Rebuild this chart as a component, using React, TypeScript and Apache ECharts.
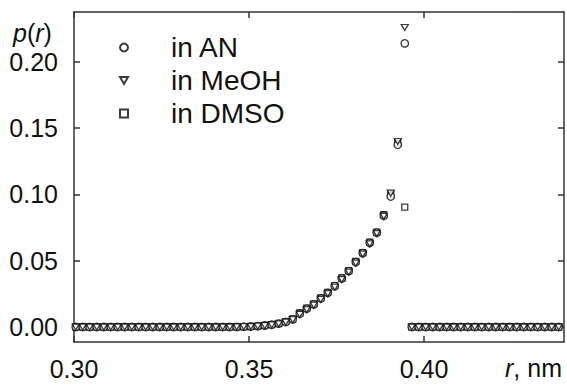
import React, { useEffect, useRef } from "react";
import * as echarts from "echarts";

// r grid (nm): 70 sampling points
const rStart = 0.3005;
const rStep = 0.002;
const rCount = 70;

// p(r) values per series, index k -> r = rStart + k*rStep
const zeros23 = [0, 0, 0, 0, 0, 0, 0, 0, 0, 0, 0, 0, 0, 0, 0, 0, 0, 0, 0, 0, 0, 0, 0];
const zeros22 = [0, 0, 0, 0, 0, 0, 0, 0, 0, 0, 0, 0, 0, 0, 0, 0, 0, 0, 0, 0, 0, 0];
const riseAN = [0.0001, 0.0002, 0.0004, 0.0007, 0.0011, 0.0017, 0.0026, 0.0038, 0.0058, 0.0100, 0.0138, 0.0170, 0.0215, 0.0258, 0.0308, 0.0366, 0.0422, 0.0490, 0.0558, 0.0635, 0.0712, 0.0840, 0.0985, 0.1375, 0.2140];
const riseMeOH = [0.0001, 0.0002, 0.0003, 0.0006, 0.0010, 0.0016, 0.0024, 0.0036, 0.0055, 0.0095, 0.0132, 0.0165, 0.0208, 0.0252, 0.0300, 0.0358, 0.0415, 0.0482, 0.0550, 0.0628, 0.0705, 0.0835, 0.1010, 0.1400, 0.2260];
const riseDMSO = [0.0001, 0.0002, 0.0004, 0.0007, 0.0012, 0.0018, 0.0027, 0.0040, 0.0062, 0.0106, 0.0142, 0.0174, 0.0220, 0.0262, 0.0312, 0.0370, 0.0426, 0.0495, 0.0562, 0.0640, 0.0716, 0.0848, 0.1000, 0.1390, 0.0905];

const pAN = [...zeros23, ...riseAN, ...zeros22];
const pMeOH = [...zeros23, ...riseMeOH, ...zeros22];
const pDMSO = [...zeros23, ...riseDMSO, ...zeros22];

const xTicks = [0.3, 0.35, 0.4];
const yTicks = [0, 0.05, 0.1, 0.15, 0.2];
const seriesNames = ["in AN", "in MeOH", "in DMSO"];

const FONT = "'Liberation Sans', Arial, sans-serif";
const INK = "#111111";
const MARK = "#0a0a0a";
const TRI_DOWN = "path://M0 0L10 0L5 8.66Z";

export default function App() {
  const ref = useRef<HTMLDivElement>(null);
  useEffect(() => {
    document.body.style.margin = "0";
    if (!ref.current) return;
    const chart = echarts.init(ref.current, undefined, { renderer: "svg" });
    const rVals = Array.from({ length: rCount }, (_, k) => +(rStart + k * rStep).toFixed(4));
    const mk = (arr: number[]) => arr.map((v, k) => [rVals[k], v]);
    const axisLine = { show: true, onZero: false, lineStyle: { color: "#333", width: 1.5 } };
    const tickStyle = { color: "#333", width: 1.5 };
    const markStyle = { color: "#ffffff", borderColor: MARK, borderWidth: 1.3 };
    const xCommon = {
      type: "value" as const,
      min: 0.3,
      max: 0.44,
      splitLine: { show: false },
      axisLine,
    };
    const yCommon = {
      type: "value" as const,
      min: -0.0113,
      max: 0.2377,
      splitLine: { show: false },
      axisLine,
    };
    chart.setOption({
      animation: false,
      backgroundColor: "#ffffff",
      grid: { left: 74, right: 3, top: 12, bottom: 43, containLabel: false },
      xAxis: [
        {
          ...xCommon,
          position: "bottom",
          axisTick: { show: true, inside: true, length: 6, customValues: xTicks, lineStyle: tickStyle },
          axisLabel: {
            show: true,
            customValues: xTicks,
            formatter: (v: number) => v.toFixed(2),
            fontSize: 25,
            fontFamily: FONT,
            color: INK,
            margin: 14,
          },
        },
        {
          ...xCommon,
          position: "top",
          axisTick: { show: true, inside: true, length: 6, customValues: xTicks, lineStyle: tickStyle },
          axisLabel: { show: false },
        },
      ],
      yAxis: [
        {
          ...yCommon,
          position: "left",
          axisTick: { show: true, inside: true, length: 6, customValues: yTicks, lineStyle: tickStyle },
          axisLabel: {
            show: true,
            customValues: yTicks,
            formatter: (v: number) => v.toFixed(2),
            fontSize: 25,
            fontFamily: FONT,
            color: INK,
            margin: 16,
          },
        },
        {
          ...yCommon,
          position: "right",
          axisTick: { show: true, inside: true, length: 6, customValues: yTicks, lineStyle: tickStyle },
          axisLabel: { show: false },
        },
      ],
      legend: {
        orient: "vertical",
        left: 114,
        top: 26,
        padding: 5,
        itemWidth: 8,
        itemHeight: 8,
        itemGap: 0,
        data: seriesNames,
        textStyle: { fontSize: 28, fontFamily: FONT, color: INK, lineHeight: 33, padding: [0, 0, 0, 38] },
      },
      series: [
        {
          name: seriesNames[0],
          type: "scatter",
          symbol: "circle",
          symbolSize: 7.5,
          itemStyle: markStyle,
          data: mk(pAN),
          clip: false,
          z: 3,
        },
        {
          name: seriesNames[1],
          type: "scatter",
          symbol: TRI_DOWN,
          symbolSize: [7, 6],
          itemStyle: markStyle,
          data: mk(pMeOH),
          clip: false,
          z: 4,
        },
        {
          name: seriesNames[2],
          type: "scatter",
          symbol: "rect",
          symbolSize: 6,
          itemStyle: markStyle,
          data: mk(pDMSO),
          clip: false,
          z: 2,
        },
      ],
      graphic: [
        {
          type: "text",
          left: 13,
          top: 20,
          style: {
            text: "{i|p}{n|(}{i|r}{n|)}",
            rich: {
              i: { fontSize: 25, fontStyle: "italic", fontFamily: FONT, fill: INK },
              n: { fontSize: 25, fontFamily: FONT, fill: INK },
            },
          },
        },
        {
          type: "text",
          right: 5,
          top: 355,
          style: {
            text: "{i|r}{n|, nm}",
            rich: {
              i: { fontSize: 25, fontStyle: "italic", fontFamily: FONT, fill: INK },
              n: { fontSize: 25, fontFamily: FONT, fill: INK },
            },
          },
        },
      ],
    });
    return () => chart.dispose();
  }, []);
  return <div ref={ref} style={{ width: 567, height: 385 }} />;
}
